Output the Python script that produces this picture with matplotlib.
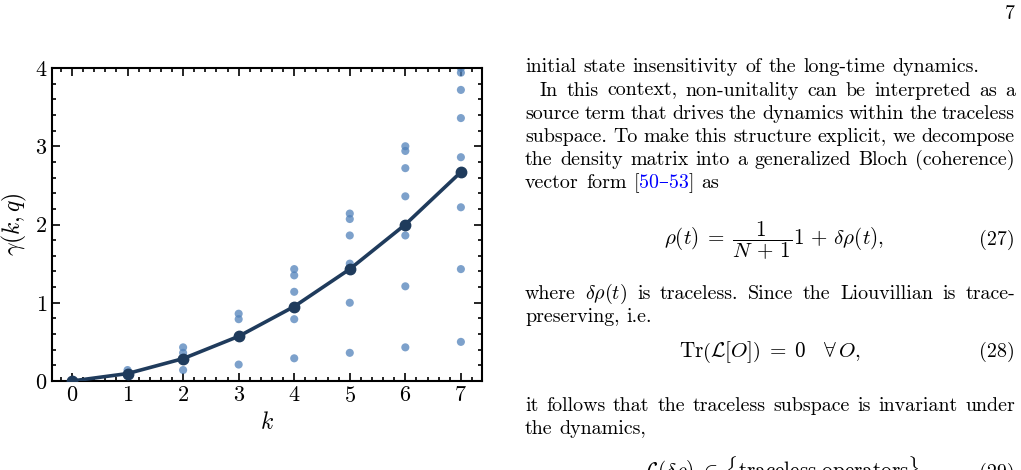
import matplotlib
matplotlib.use('Agg')
import matplotlib.pyplot as plt
from matplotlib.ticker import MultipleLocator

plt.rcParams['font.family'] = ['cmr10', 'DejaVu Serif']
plt.rcParams['mathtext.fontset'] = 'cm'
plt.rcParams['axes.formatter.use_mathtext'] = True

# --- data ---
k_vals = [0, 1, 2, 3, 4, 5, 6, 7]
gamma_mean = [0.0, 0.095, 0.286, 0.571, 0.952, 1.43, 2.0, 2.67]
gamma_q = [
    [0.0, 0.0],
    [0.14, 0.10, 0.07],
    [0.43, 0.36, 0.29, 0.14],
    [0.86, 0.79, 0.57, 0.21],
    [1.43, 1.35, 1.14, 0.95, 0.79, 0.29],
    [2.14, 2.07, 1.86, 1.50, 1.43, 1.00, 0.36],
    [3.00, 2.94, 2.72, 2.36, 2.00, 1.86, 1.21, 0.43],
    [4.00, 3.94, 3.72, 3.36, 2.86, 2.67, 2.22, 1.43, 0.50],
]
x_ticks = [0, 1, 2, 3, 4, 5, 6, 7]
y_ticks = [0, 1, 2, 3, 4]

# page text next to the figure
para1 = [
    "initial state insensitivity of the long-time dynamics.",
    "In this context, non-unitality can be interpreted as a",
    "source term that drives the dynamics within the traceless",
    "subspace. To make this structure explicit, we decompose",
    "the density matrix into a generalized Bloch (coherence)",
    "vector form [50–53] as",
]
para2 = [
    r"where $\delta\rho(t)$ is traceless. Since the Liouvillian is trace-",
    "preserving, i.e.",
]
para3 = [
    "it follows that the traceless subspace is invariant under",
    "the dynamics,",
]
cites = ["[50–53]"]

W, H = 1021, 470
fig = plt.figure(figsize=(W / 100, H / 100), dpi=100)
ax = fig.add_axes([52 / W, 1 - 381 / H, 430 / W, 313 / H])

dot_col = '#5282ba'
line_col = '#1f3b5c'
for k, vals in zip(k_vals, gamma_q):
    ax.scatter([k] * len(vals), vals, s=34, color=dot_col, alpha=0.75,
               edgecolors='none', zorder=2)
ax.plot(k_vals, gamma_mean, '-o', color=line_col, lw=2.6, ms=7.5, zorder=3)

ax.set_xlim(-0.36, 7.38)
ax.set_ylim(0, 4)
ax.set_xticks(x_ticks)
ax.set_yticks(y_ticks)
ax.xaxis.set_minor_locator(MultipleLocator(0.2))
ax.yaxis.set_minor_locator(MultipleLocator(0.2))
ax.tick_params(which='both', direction='in', top=True, right=True, labelsize=16, width=1.2)
ax.tick_params(which='major', length=6)
ax.tick_params(which='minor', length=3)
for sp in ax.spines.values():
    sp.set_linewidth(1.5)
ax.set_xlabel(r"$k$", fontsize=17, labelpad=4)
ax.set_ylabel(r"$\gamma(k,q)$", fontsize=17, labelpad=4)

# --- text on the right, justified word by word ---
BODY = 14.4
MATH = 15.2
renderer = fig.canvas.get_renderer()


def pos(x, y):
    return x / W, 1 - y / H


def put_line(line, x0, x1, y, justify):
    items = []
    for w in line.split(' '):
        segs = [(w, 'black')]
        if w in cites:
            segs = [("[", 'black'), (w[1:-1], 'blue'), ("]", 'black')]
        ts, width = [], 0
        for s, c in segs:
            t = fig.text(0, 0, s, fontsize=BODY, color=c, va='baseline', ha='left')
            wpx = t.get_window_extent(renderer).width
            ts.append((t, wpx))
            width += wpx
        items.append((ts, width))
    gap = BODY * 100 / 72 * 0.36
    if justify and len(items) > 1:
        gap = (x1 - x0 - sum(w for _, w in items)) / (len(items) - 1)
    x = x0
    for ts, width in items:
        xx = x
        for t, wpx in ts:
            t.set_position(pos(xx, y))
            xx += wpx
        x += width + gap


L, R = 525, 1015
y = 72.5
for i, line in enumerate(para1):
    put_line(line, L + (15 if i == 1 else 0), R, y, i not in (0, len(para1) - 1))
    y += 23.1
for i, line in enumerate(para2):
    put_line(line, L, R, 299 + 23.1 * i, i == 0)
for i, line in enumerate(para3):
    put_line(line, L, R, 411 + 23.1 * i, i == 0)

fig.text(*pos(1015, 19), "7", fontsize=BODY, ha='right', va='baseline')

fig.text(*pos(774, 245),
         r"$\rho(t)\;=\;\dfrac{1}{N\,+\,1}\mathbf{1}\,+\,\delta\rho(t),$",
         fontsize=MATH, ha='center', va='baseline')
fig.text(*pos(1015, 245), "(27)", fontsize=BODY, ha='right', va='baseline')
fig.text(*pos(770, 357),
         r"$\mathrm{Tr}\left(\mathcal{L}[O]\right)\;=\;0\quad\forall\,O,$",
         fontsize=MATH, ha='center', va='baseline')
fig.text(*pos(1015, 357), "(28)", fontsize=BODY, ha='right', va='baseline')
fig.text(*pos(643, 478),
         r"$\mathcal{L}(\delta\rho)\;\in\;\{\mathrm{traceless\ operators}\},$",
         fontsize=MATH, ha='left', va='baseline')
fig.text(*pos(1015, 478), "(29)", fontsize=BODY, ha='right', va='baseline')

fig.savefig('out.png', dpi=100)
